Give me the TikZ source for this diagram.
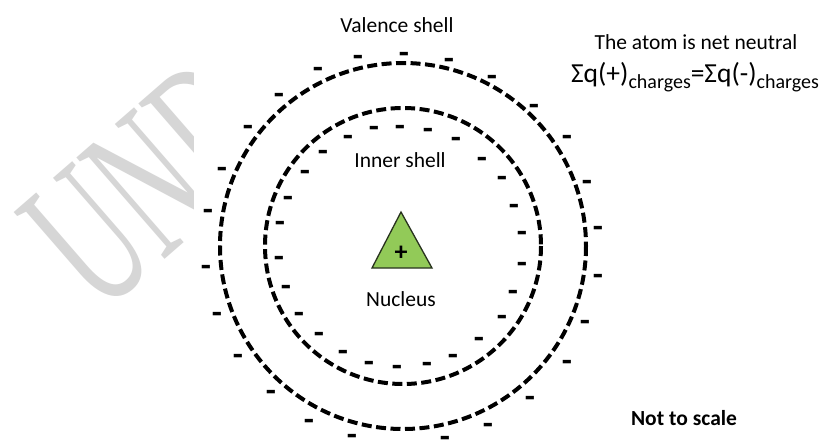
\documentclass[tikz,border=0pt]{standalone}
\usepackage{fontspec}
\setmainfont{Carlito}
\newfontfamily\wmfont{Liberation Serif}
\definecolor{wmgray}{RGB}{214,214,214}
\definecolor{nucgreen}{RGB}{146,202,88}
\definecolor{nucedge}{RGB}{40,50,30}
\begin{document}
\begin{tikzpicture}[x=1pt,y=-1pt,
  shell/.style={line width=4pt, dash pattern=on 10pt off 4.5pt, black},
  lbl/.style={anchor=base, inner sep=0pt, font=\fontsize{21.5}{24}\selectfont},
  minus/.style={inner sep=0pt, font=\fontsize{33}{34}\selectfont\bfseries, yshift=-3.5pt},
]
\useasboundingbox (0,0) rectangle (825,440);
\fill[white] (0,0) rectangle (825,440);
% watermark
\begin{scope}
  \clip (0,0) rectangle (193,440);
  \node[anchor=north west, rotate=41, inner sep=0pt, text=wmgray,
        font=\fontsize{114}{114}\wmfont] (wm) at (12,214) {\scalebox{1}[1.8]{UND}};
\end{scope}
% shells
\coordinate (c) at (403,246);
\draw[shell] (c) circle[radius=183];
\draw[shell] (c) circle[radius=138];
% nucleus
\draw[fill=nucgreen, draw=nucedge, line width=1.3pt, line join=miter]
  (401,212) -- (432,268) -- (372,268) -- cycle;
\node[inner sep=0pt, font=\fontsize{26}{28}\selectfont\bfseries, yshift=-2pt] (plus) at (401,251) {+};
% labels
\node[lbl] (valence) at (397,32) {Valence shell};
\node[lbl] (inner) at (400,167) {Inner shell};
\node[lbl] (nucleus) at (401,306) {Nucleus};
\node[lbl] (neutral) at (696,49) {The atom is net neutral};
\node[anchor=base, inner sep=0pt, font=\fontsize{27.5}{30}\selectfont] (eq) at (695,82)
  {Σq(+)\raisebox{-6pt}{\fontsize{20}{21}\selectfont charges}=Σq(-)\raisebox{-6pt}{\fontsize{20}{21}\selectfont charges}};
\node[lbl, font=\fontsize{21.5}{24}\selectfont\bfseries] (scale) at (684,425) {Not to scale};
% electrons
\foreach \p [count=\i] in {(358,57),(404,54),(449,60),(318,69),(492,77),(279,95),(534,106),(248,127),(567,137),(222,169),(587,182),(208,211),(598,228),(206,267),(598,276),(217,314),(585,322),(238,356),(567,362),(271,392),(530,398),(309,421),(488,425),(352,436),(445,438)}
  \node[minus] (o\i) at \p {-};
\foreach \p [count=\i] in {(348,137),(374,128),(400,127),(428,130),(456,139),(323,152),(482,159),(305,172),(502,178),(288,198),(514,206),(280,223),(522,233),(279,258),(522,264),(286,287),(513,292),(299,314),(502,317),(319,334),(479,339),(343,352),(453,356),(369,363),(397,367),(427,364)}
  \node[minus] (i\i) at \p {-};
\end{tikzpicture}
\end{document}
